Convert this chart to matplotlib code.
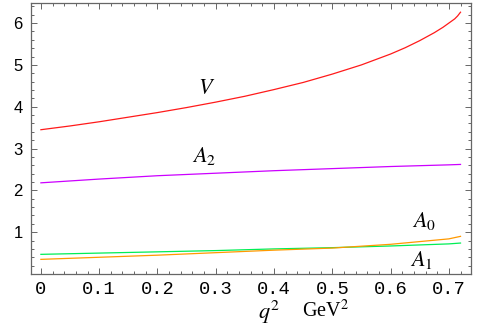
import matplotlib
matplotlib.use("Agg")
import matplotlib.pyplot as plt
from matplotlib.ticker import MultipleLocator, FixedLocator

plt.rcParams['mathtext.fontset'] = 'stix'

q2_V = [0, 0.05, 0.1, 0.15, 0.2, 0.25, 0.3, 0.35, 0.4, 0.45, 0.5, 0.55, 0.6, 0.625, 0.65,
        0.675, 0.69, 0.7, 0.71, 0.715, 0.72]
V = [3.45, 3.54, 3.64, 3.75, 3.86, 3.98, 4.11, 4.25, 4.41, 4.58, 4.78, 5.00, 5.26, 5.41, 5.58,
     5.77, 5.90, 6.00, 6.10, 6.17, 6.26]

q2 = [0, 0.1, 0.2, 0.3, 0.4, 0.5, 0.6, 0.7, 0.72]
A2 = [2.18, 2.27, 2.35, 2.41, 2.47, 2.52, 2.57, 2.61, 2.62]
A1 = [0.47, 0.50, 0.53, 0.56, 0.60, 0.63, 0.67, 0.72, 0.74]
A0 = [0.35, 0.40, 0.45, 0.51, 0.57, 0.62, 0.71, 0.84, 0.90]

xticks = [0, 0.1, 0.2, 0.3, 0.4, 0.5, 0.6, 0.7]
xticklabels = ['0', '0.1', '0.2', '0.3', '0.4', '0.5', '0.6', '0.7']
yticks = [1, 2, 3, 4, 5, 6]

fig = plt.figure(figsize=(4.84, 3.25), dpi=100)
ax = fig.add_axes([31/484, 51/325, 440/484, 271/325])

ax.plot(q2_V, V, color='#ff1a1a', lw=0.9)
ax.plot(q2, A2, color='#cc00ff', lw=0.9)
ax.plot(q2, A1, color='#00ee55', lw=0.9)
ax.plot(q2, A0, color='#ff9900', lw=0.9)

ax.set_xlim(-0.017, 0.738)
ax.set_ylim(0.0, 6.48)

ax.xaxis.set_major_locator(FixedLocator(xticks))
ax.set_xticklabels(xticklabels, family='Liberation Mono', fontsize=13.5)
ax.xaxis.set_minor_locator(MultipleLocator(0.02))
ax.yaxis.set_major_locator(FixedLocator(yticks))
ax.set_yticklabels([str(t) for t in yticks], family='Liberation Sans', fontsize=12)
ax.yaxis.set_minor_locator(MultipleLocator(0.2))

for s in ax.spines.values():
    s.set_color('#666666')
    s.set_linewidth(0.9)
ax.tick_params(which='both', direction='in', top=True, right=True, colors='#666666', labelcolor='black', width=0.7)
ax.tick_params(axis='x', which='major', length=4.5, pad=5)
ax.tick_params(axis='y', which='major', length=4.5, pad=6)
ax.tick_params(which='minor', length=2.5)

ax.text(0.285, 4.45, '$V$', fontsize=16, ha='center', va='center')
ax.text(0.28, 2.83, '$A_2$', fontsize=16, ha='center', va='center')
ax.text(0.657, 1.26, '$A_0$', fontsize=16, ha='center', va='center')
ax.text(0.653, 0.33, '$A_1$', fontsize=16, ha='center', va='center')

fig.text(269/484, 1 - 312/325, '$q^2$', fontsize=16, ha='center', va='center')
fig.text(326/484, 1 - 311/325, 'GeV$^2$', fontsize=14.5, ha='center', va='center', family='Liberation Serif')

fig.savefig('out.png', dpi=100)
